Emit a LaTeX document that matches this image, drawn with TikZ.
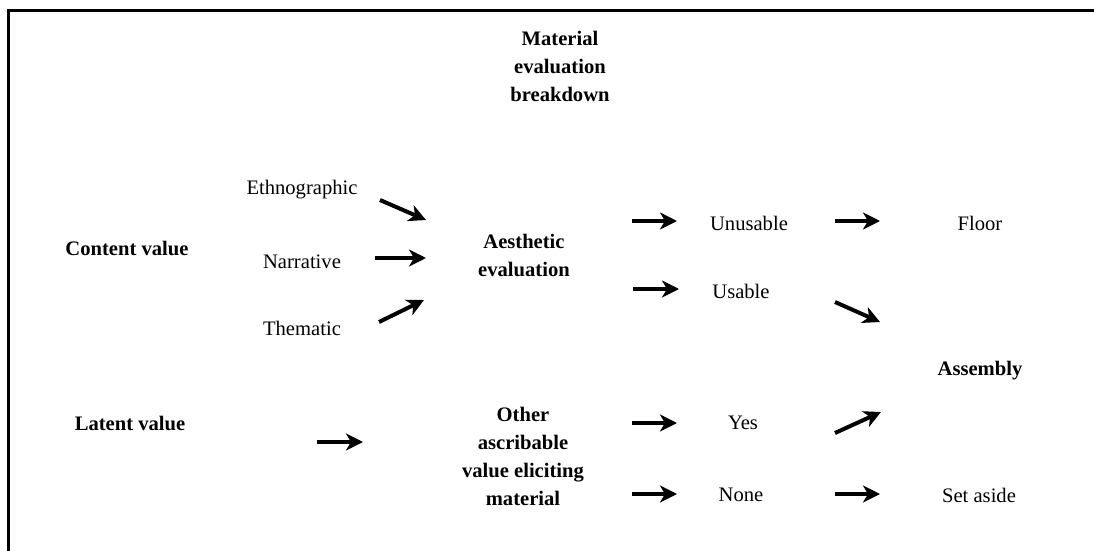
\documentclass[tikz,border=0pt]{standalone}
\usepackage{fontspec}
\setmainfont{Liberation Serif}
\usetikzlibrary{arrows.meta}
\begin{document}
\begin{tikzpicture}[x=1pt,y=-1pt,
  txt/.style={font=\fontsize{20.6}{28}\selectfont, inner sep=0pt, align=center},
  bold/.style={txt, font=\fontsize{20.6}{28}\selectfont\bfseries},
  arr/.style={line width=4pt, -{Stealth[length=17pt,width=17pt,inset=5pt]}}]
\useasboundingbox (0,0) rectangle (1094,551);
\draw[line width=2.8pt] (8.6,553) -- (8.6,10.6) -- (1096,10.6);
% texts
\node[bold] (mat) at (560,66) {Material\\evaluation\\breakdown};
\node[txt] (eth) at (302,190) {Ethnographic};
\node[bold] (cv) at (127,248) {Content value};
\node[txt] (nar) at (302,262) {Narrative};
\node[txt] (the) at (302,328) {Thematic};
\node[bold] (aes) at (524,255) {Aesthetic\\evaluation};
\node[txt] (unu) at (749,223) {Unusable};
\node[txt] (flo) at (980,223) {Floor};
\node[txt] (usa) at (741,291) {Usable};
\node[bold] (ass) at (980,371) {Assembly};
\node[bold] (lat) at (130,423) {Latent value};
\node[bold] (oth) at (523,456) {Other\\ascribable\\value eliciting\\material};
\node[txt] (yes) at (743,423) {Yes};
\node[txt] (non) at (741,495) {None};
\node[txt] (set) at (979,495) {Set aside};
% arrow end points
\coordinate (a1s) at (380,200); \coordinate (a1e) at (426,220);
\coordinate (a2s) at (375,258); \coordinate (a2e) at (426,258);
\coordinate (a3s) at (379,322); \coordinate (a3e) at (424,300);
\coordinate (b1s) at (632,221); \coordinate (b1e) at (677,221);
\coordinate (b2s) at (633,289); \coordinate (b2e) at (679,289);
\coordinate (c1s) at (835,221); \coordinate (c1e) at (880,221);
\coordinate (c2s) at (835,302); \coordinate (c2e) at (880,322);
\coordinate (ls) at (317,442); \coordinate (le) at (363,442);
\coordinate (d1s) at (632,423); \coordinate (d1e) at (677,423);
\coordinate (d2s) at (632,494); \coordinate (d2e) at (677,494);
\coordinate (e1s) at (835,433); \coordinate (e1e) at (881,412);
\coordinate (e2s) at (835,494); \coordinate (e2e) at (880,494);
\foreach \s/\e in {a1s/a1e,a2s/a2e,a3s/a3e,b1s/b1e,b2s/b2e,c1s/c1e,c2s/c2e,ls/le,d1s/d1e,d2s/d2e,e1s/e1e,e2s/e2e}
  \draw[arr] (\s) -- (\e);
\end{tikzpicture}
\end{document}
